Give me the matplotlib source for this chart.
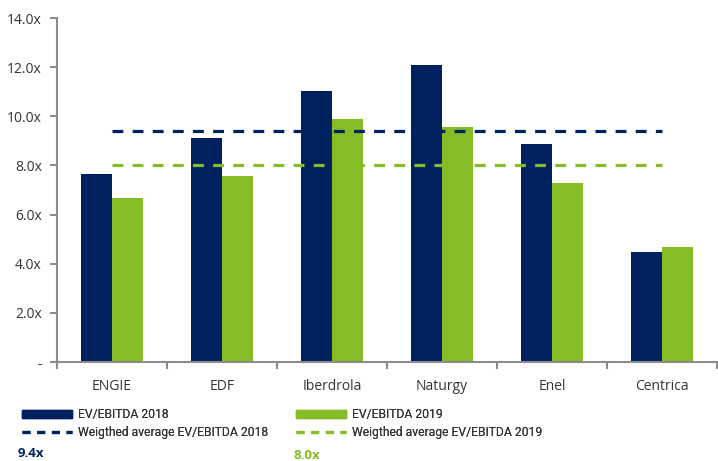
import matplotlib
matplotlib.use("Agg")
import matplotlib.pyplot as plt
from matplotlib.patches import Patch
from matplotlib.lines import Line2D
import numpy as np

plt.rcParams['font.family'] = ['Open Sans', 'DejaVu Sans']

categories = ["ENGIE", "EDF", "Iberdrola", "Naturgy", "Enel", "Centrica"]
ev_2018 = [7.65, 9.1, 11.03, 12.08, 8.87, 4.48]
ev_2019 = [6.67, 7.57, 9.88, 9.56, 7.28, 4.66]
avg_2018 = 9.4
avg_2019 = 8.0
yticks = [0, 2, 4, 6, 8, 10, 12, 14]
ytick_labels = ["-", "2.0x", "4.0x", "6.0x", "8.0x", "10.0x", "12.0x", "14.0x"]

navy = "#00215F"
green = "#86BC25"
grey = "#8C8C8C"
txt = "#333333"

leg_family = ["Roboto", "DejaVu Sans"]
leg_size = 8.7

W, H = 718, 461
fig = plt.figure(figsize=(W / 100, H / 100), dpi=100)
ax = fig.add_axes([57 / W, 1 - 362 / H, (717 - 57) / W, (362 - 18) / H])

x = np.arange(len(categories))
bw = 0.285
ax.bar(x - bw / 2, ev_2018, width=bw, color=navy, zorder=2)
ax.bar(x + bw / 2, ev_2019, width=bw, color=green, zorder=2)

dash = (3.4, 2.9)
ax.plot([x[0], x[-1]], [avg_2018, avg_2018], color=navy, lw=2.3,
        linestyle=(0, dash), zorder=3)
ax.plot([x[0], x[-1]], [avg_2019, avg_2019], color=green, lw=2.3,
        linestyle=(0, dash), zorder=3)

ax.set_xlim(-0.5, len(categories) - 0.5)
ax.set_ylim(0, 14)
ax.set_yticks(yticks)
ax.set_yticklabels(ytick_labels)
ax.set_xticks(x)
ax.set_xticklabels(categories)
ax.set_xticks(np.arange(len(categories) + 1) - 0.5, minor=True)
ax.tick_params(axis='x', which='major', length=0, pad=12, labelsize=10, labelcolor=txt)
ax.tick_params(axis='x', which='minor', length=5, width=1.5, color=grey, direction='out')
ax.tick_params(axis='y', length=5, width=1.5, color=grey, labelsize=10, labelcolor=txt, pad=6)

for s in ['top', 'right']:
    ax.spines[s].set_visible(False)
for s in ['left', 'bottom']:
    ax.spines[s].set_color(grey)
    ax.spines[s].set_linewidth(1.5)

ld = (2.5, 2.1)
handles = [
    Patch(color=navy, label="EV/EBITDA 2018"),
    Line2D([], [], color=navy, lw=2.3, linestyle=(0, ld), label="Weigthed average EV/EBITDA 2018"),
]
handles2 = [
    Patch(color=green, label="EV/EBITDA 2019"),
    Line2D([], [], color=green, lw=2.3, linestyle=(0, ld), label="Weigthed average EV/EBITDA 2019"),
]
fpx = leg_size * 100 / 72
hl = 50 / fpx
for hs, xa in [(handles, 22), (handles2, 296)]:
    leg = fig.legend(handles=hs, loc='upper left', bbox_to_anchor=(xa / W, 1 - 408 / H),
                     frameon=False, prop={'family': leg_family, 'size': leg_size},
                     handlelength=hl, handletextpad=6 / fpx,
                     borderaxespad=0, borderpad=0, labelspacing=0.45, handleheight=0.6)
    for t in leg.get_texts():
        t.set_color(txt)
    fig.add_artist(leg)

fig.text(18 / W, 1 - 453 / H, "9.4x", color=navy, fontsize=9.5, fontweight='bold', va='center')
fig.text(293 / W, 1 - 455.5 / H, "8.0x", color=green, fontsize=9.5, fontweight='bold', va='center')

fig.savefig("out.png", dpi=100)
